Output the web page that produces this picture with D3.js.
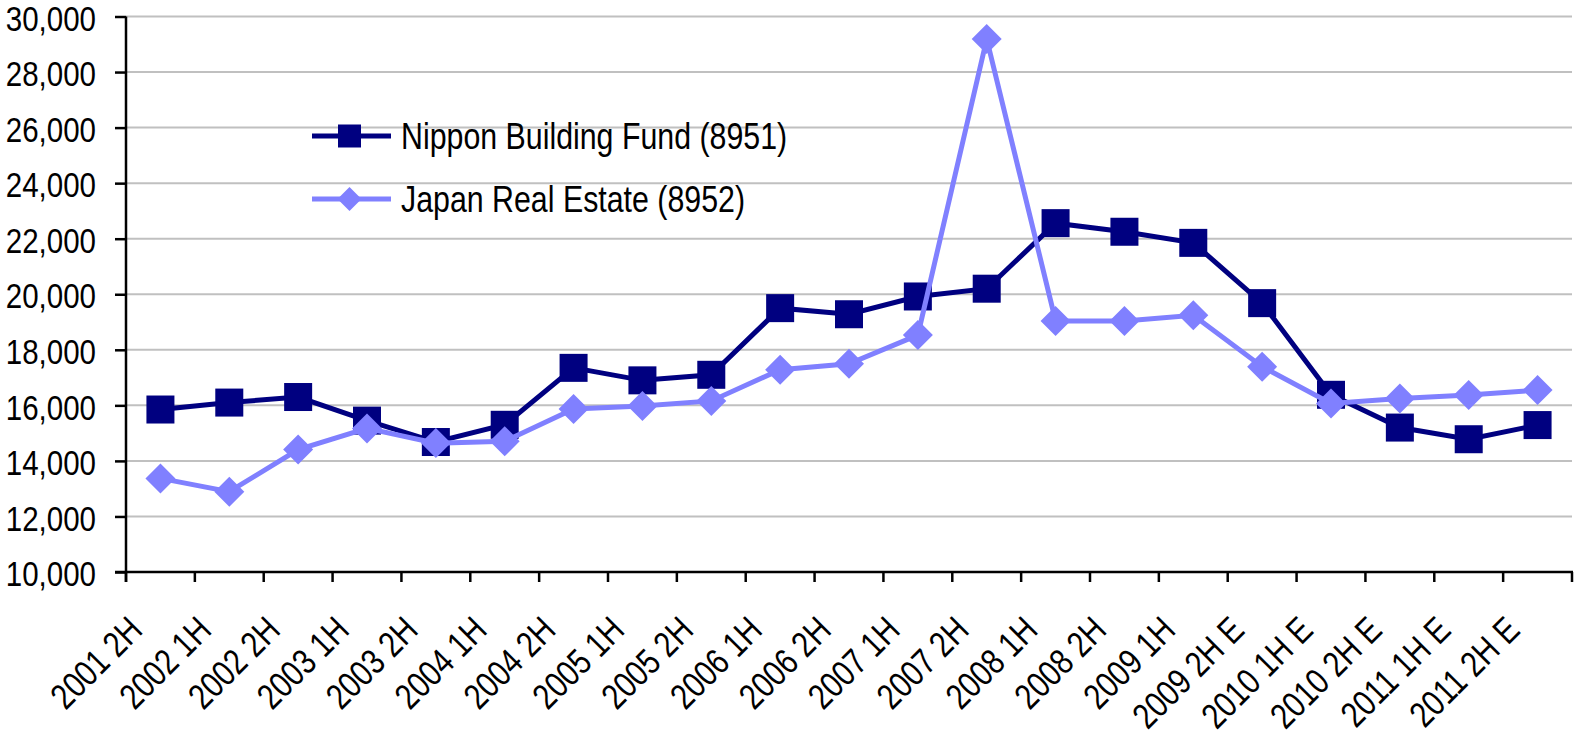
<!DOCTYPE html>
<html>
<head>
<meta charset="utf-8">
<script src="https://cdn.jsdelivr.net/npm/d3@7"></script>
<style>
  body { margin: 0; background: #fff; }
  text { font-family: "Liberation Sans", Arial, sans-serif; fill: #000; }
</style>
</head>
<body>
<svg id="chart" width="1575" height="737"></svg>
<script>
// half-year periods on the x axis
var periods = ["2001 2H", "2002 1H", "2002 2H", "2003 1H", "2003 2H", "2004 1H", "2004 2H",
  "2005 1H", "2005 2H", "2006 1H", "2006 2H", "2007 1H", "2007 2H", "2008 1H", "2008 2H",
  "2009 1H", "2009 2H E", "2010 1H E", "2010 2H E", "2011 1H E", "2011 2H E"];

var nbfValues = [15850, 16100, 16300, 15450, 14680, 15300, 17350, 16900, 17100, 19500, 19280,
  19920, 20200, 22560, 22250, 21850, 19680, 16380, 15200, 14780, 15290];

var jreValues = [13370, 12890, 14410, 15170, 14640, 14710, 15870, 15980, 16160, 17280, 17500,
  18530, 29190, 19040, 19040, 19240, 17390, 16070, 16250, 16370, 16550];

var yTicks = [10000, 12000, 14000, 16000, 18000, 20000, 22000, 24000, 26000, 28000, 30000];

var seriesNames = ["Nippon Building Fund (8951)", "Japan Real Estate (8952)"];

var svg = d3.select("#chart");

var plotLeft = 126, plotRight = 1572, plotTop = 16.5, plotBottom = 572;
var narrow = " scale(0.82,1)"; // Arial Narrow look from Liberation Sans

var x = d3.scaleBand()
    .domain(periods)
    .range([plotLeft, plotRight])
    .padding(0);

var y = d3.scaleLinear()
    .domain([10000, 30000])
    .range([plotBottom, plotTop]);

// gridlines
svg.append("g")
    .attr("class", "grid")
  .selectAll("line")
  .data(yTicks.slice(1))
  .enter().append("line")
    .attr("x1", plotLeft)
    .attr("x2", plotRight)
    .attr("y1", function(d) { return y(d); })
    .attr("y2", function(d) { return y(d); })
    .attr("stroke", "#c0c0c0")
    .attr("stroke-width", 2);

// y axis
var yAxis = svg.append("g")
    .attr("transform", "translate(" + plotLeft + ",0)")
    .call(d3.axisLeft(y)
      .tickValues(yTicks)
      .tickSize(11)
      .tickFormat(d3.format(",")));
yAxis.select(".domain").attr("stroke-width", 2.5).attr("d", "M0," + plotTop + "V" + (plotBottom + 10));
yAxis.selectAll(".tick line").attr("stroke-width", 2.5);
yAxis.selectAll(".tick text")
    .attr("x", null)
    .attr("dy", "0.38em")
    .attr("font-size", 36)
    .attr("font-family", null)
    .attr("transform", "translate(-30,0)" + narrow);

// x axis, ticks on category boundaries
var boundaries = periods.map(function(p) { return x(p); }).concat([plotRight]);
var xg = svg.append("g");
xg.append("line")
    .attr("x1", plotLeft - 11).attr("x2", plotRight + 1)
    .attr("y1", plotBottom).attr("y2", plotBottom)
    .attr("stroke", "#000").attr("stroke-width", 2.5);
xg.selectAll("line.tick")
  .data(boundaries)
  .enter().append("line")
    .attr("class", "tick")
    .attr("x1", function(d) { return d; })
    .attr("x2", function(d) { return d; })
    .attr("y1", plotBottom)
    .attr("y2", plotBottom + 10)
    .attr("stroke", "#000")
    .attr("stroke-width", 2.5);
xg.selectAll("text")
  .data(periods)
  .enter().append("text")
    .attr("font-size", 36)
    .attr("text-anchor", "end")
    .attr("transform", function(d) {
      return "translate(" + (x(d) + x.bandwidth() / 2 - 16) + "," + 632 + ") rotate(-45)" + narrow;
    })
    .text(function(d) { return d; });

var cx = function(d, i) { return x(periods[i]) + x.bandwidth() / 2; };

var line = d3.line()
    .x(function(d, i) { return cx(d, i); })
    .y(function(d) { return y(d); });

// Nippon Building Fund
svg.append("path")
    .datum(nbfValues)
    .attr("fill", "none")
    .attr("stroke", "#000080")
    .attr("stroke-width", 5)
    .attr("d", line);
svg.append("g").selectAll("rect")
  .data(nbfValues)
  .enter().append("rect")
    .attr("x", function(d, i) { return cx(d, i) - 14; })
    .attr("y", function(d) { return y(d) - 14; })
    .attr("width", 28)
    .attr("height", 28)
    .attr("fill", "#000080");

// Japan Real Estate
var diamond = function(r) { return "M0," + (-r) + "L" + r + ",0L0," + r + "L" + (-r) + ",0Z"; };
svg.append("path")
    .datum(jreValues)
    .attr("fill", "none")
    .attr("stroke", "#8080ff")
    .attr("stroke-width", 5)
    .attr("d", line);
svg.append("g").selectAll("path")
  .data(jreValues)
  .enter().append("path")
    .attr("transform", function(d, i) { return "translate(" + cx(d, i) + "," + y(d) + ")"; })
    .attr("d", diamond(15))
    .attr("fill", "#8080ff");

// legend
var legend = svg.append("g").attr("class", "legend");
var legendY = [136, 199];
var colors = ["#000080", "#8080ff"];
legend.selectAll("line")
  .data(seriesNames)
  .enter().append("line")
    .attr("x1", 312).attr("x2", 391)
    .attr("y1", function(d, i) { return legendY[i]; })
    .attr("y2", function(d, i) { return legendY[i]; })
    .attr("stroke", function(d, i) { return colors[i]; })
    .attr("stroke-width", 5);
legend.append("rect")
    .attr("x", 349.5 - 11.5).attr("y", legendY[0] - 11.5)
    .attr("width", 23).attr("height", 23)
    .attr("fill", colors[0]);
legend.append("path")
    .attr("transform", "translate(349.5," + legendY[1] + ")")
    .attr("d", diamond(12))
    .attr("fill", colors[1]);
legend.selectAll("text")
  .data(seriesNames)
  .enter().append("text")
    .attr("font-size", 37)
    .attr("transform", function(d, i) { return "translate(401," + (legendY[i] + 12.5) + ")" + narrow; })
    .text(function(d) { return d; });
</script>
</body>
</html>
